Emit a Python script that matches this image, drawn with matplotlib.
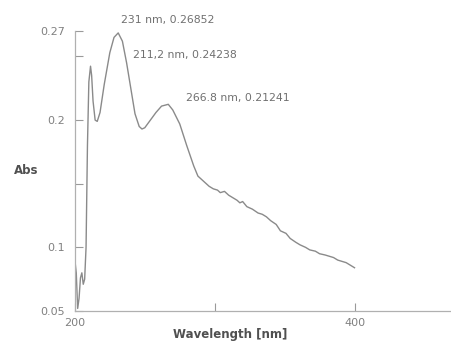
import matplotlib
matplotlib.use("Agg")
from matplotlib import pyplot as plt

# spectrum
wavelength = [200, 201, 202, 203, 204, 205, 206, 207, 208, 209, 210, 211.2, 212, 213,
              214.5, 216, 218, 221, 225, 228, 231, 234, 237, 240, 243, 246, 248, 250,
              254, 258, 262, 266.8, 270, 275, 280, 285, 288, 292, 296, 299, 302, 304,
              307, 310, 313, 316, 318, 320, 323, 327, 331, 334, 337, 340, 344, 347,
              351, 354, 358, 361, 365, 368, 372, 375, 379, 382, 385, 388, 391, 394,
              397, 400]
absorb = [0.090, 0.080, 0.052, 0.060, 0.076, 0.080, 0.071, 0.075, 0.100, 0.180, 0.230,
          0.24238, 0.235, 0.215, 0.200, 0.199, 0.206, 0.228, 0.253, 0.265, 0.26852,
          0.262, 0.245, 0.225, 0.205, 0.195, 0.193, 0.194, 0.200, 0.206, 0.211, 0.21241,
          0.208, 0.197, 0.180, 0.164, 0.156, 0.152, 0.148, 0.146, 0.145, 0.143, 0.144,
          0.141, 0.139, 0.137, 0.135, 0.136, 0.132, 0.130, 0.127, 0.126, 0.124, 0.121,
          0.118, 0.113, 0.111, 0.107, 0.104, 0.102, 0.100, 0.098, 0.097, 0.095, 0.094,
          0.093, 0.092, 0.090, 0.089, 0.088, 0.086, 0.084]

peaks_txt = ["231 nm, 0.26852", "211,2 nm, 0.24238", "266.8 nm, 0.21241"]
txt_pos = [(232.9, 0.2786), (241.4, 0.2511), (279.3, 0.2173)]

yticks = [0.05, 0.1, 0.15, 0.2, 0.25, 0.27]
ylabels = ["0.05", "0.1", "", "0.2", "", "0.27"]
xticks = [200, 300, 400]
xlabels = ["200", "", "400"]

gray = "#8a8a8a"
fig = plt.figure(figsize=(4.51, 3.41), dpi=100)
ax = fig.add_axes([0.166, 0.088, 0.834, 0.821])
ax.plot(wavelength, absorb, color=gray, lw=1.0)

for t, (tx, ty) in zip(peaks_txt, txt_pos):
    ax.text(tx, ty, t, fontsize=7.8, color="#707070", va="center", ha="left", clip_on=False)

ax.set_xlim(200, 469)
ax.set_ylim(0.05, 0.27)
ax.set_yticks(yticks)
ax.set_yticklabels(ylabels)
ax.set_xticks(xticks)
ax.set_xticklabels(xlabels)
ax.tick_params(axis="both", direction="in", colors="#9a9a9a", labelcolor="#808080",
               labelsize=8, length=6, width=0.8)
ax.tick_params(axis="y", pad=7)
ax.tick_params(axis="x", pad=5)
for s in ["top", "right"]:
    ax.spines[s].set_visible(False)
for s in ["left", "bottom"]:
    ax.spines[s].set_color("#b0b0b0")
    ax.spines[s].set_linewidth(0.9)

ax.set_ylabel("Abs", rotation=0, fontsize=8.5, fontweight="bold", color="#505050")
ax.yaxis.set_label_coords(-0.13, 0.48)
ax.set_xlabel("Wavelength [nm]", fontsize=8.5, fontweight="bold", color="#505050")
ax.xaxis.set_label_coords(0.412, -0.062)

fig.savefig("out.png", dpi=100)
